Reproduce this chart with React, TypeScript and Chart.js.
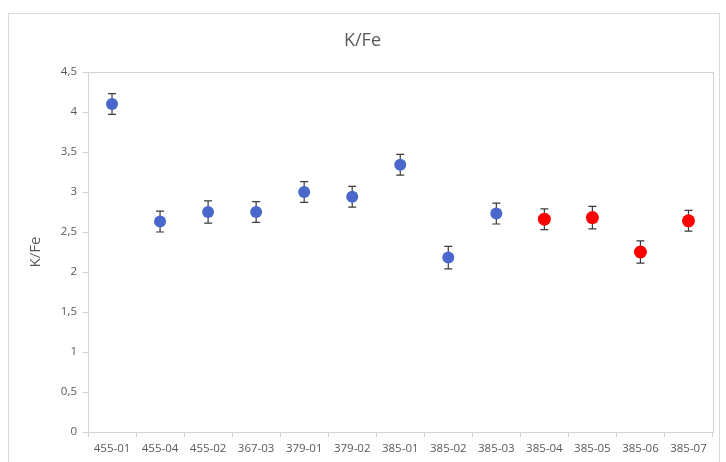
import React, { useEffect, useRef } from "react";
import { Chart, registerables } from "chart.js";

Chart.register(...registerables);

const categories = [
  "455-01", "455-04", "455-02", "367-03", "379-01", "379-02", "385-01",
  "385-02", "385-03", "385-04", "385-05", "385-06", "385-07",
];
const blueSeries = [4.1, 2.63, 2.75, 2.75, 3.0, 2.94, 3.34, 2.18, 2.73, null, null, null, null];
const redSeries = [null, null, null, null, null, null, null, null, null, 2.66, 2.68, 2.25, 2.64];
const errors = [0.13, 0.13, 0.14, 0.13, 0.13, 0.13, 0.13, 0.14, 0.13, 0.13, 0.14, 0.14, 0.13];
const yTickLabels = ["0", "0,5", "1", "1,5", "2", "2,5", "3", "3,5", "4", "4,5"];

const FONT = "'Open Sans', 'Liberation Sans', sans-serif";

const framePlugin = {
  id: "frame",
  beforeDatasetsDraw(chart: any) {
    const { ctx, chartArea } = chart;
    ctx.save();
    ctx.strokeStyle = "#d4d4d4";
    ctx.lineWidth = 1;
    ctx.strokeRect(
      Math.round(chartArea.left) + 0.5,
      Math.round(chartArea.top) + 0.5,
      Math.round(chartArea.right - chartArea.left),
      Math.round(chartArea.bottom - chartArea.top)
    );
    ctx.restore();
  },
};

const errorBarPlugin = {
  id: "errorBars",
  beforeDatasetsDraw(chart: any) {
    const { ctx } = chart;
    const xScale = chart.scales.x;
    const yScale = chart.scales.y;
    ctx.save();
    ctx.strokeStyle = "#3a3a3a";
    ctx.lineWidth = 1.2;
    chart.data.datasets.forEach((ds: any) => {
      ds.data.forEach((v: number | null, i: number) => {
        if (v === null || v === undefined) return;
        const x = xScale.getPixelForValue(i);
        const yTop = yScale.getPixelForValue(v + errors[i]);
        const yBot = yScale.getPixelForValue(v - errors[i]);
        const cap = 4;
        ctx.beginPath();
        ctx.moveTo(x, yTop);
        ctx.lineTo(x, yBot);
        ctx.moveTo(x - cap, yTop);
        ctx.lineTo(x + cap, yTop);
        ctx.moveTo(x - cap, yBot);
        ctx.lineTo(x + cap, yBot);
        ctx.stroke();
      });
    });
    ctx.restore();
  },
};

export default function App() {
  const ref = useRef<HTMLCanvasElement | null>(null);

  useEffect(() => {
    if (!ref.current) return;
    const chart = new Chart(ref.current, {
      type: "line",
      data: {
        labels: categories,
        datasets: [
          {
            label: "K/Fe",
            data: blueSeries as any,
            showLine: false,
            pointRadius: 6,
            pointBackgroundColor: "#4a68cc",
            pointBorderColor: "#4a68cc",
            pointBorderWidth: 0,
          },
          {
            label: "K/Fe (2)",
            data: redSeries as any,
            showLine: false,
            pointRadius: 6.5,
            pointBackgroundColor: "#ff0000",
            pointBorderColor: "#ff0000",
            pointBorderWidth: 0,
          },
        ],
      },
      options: {
        animation: false,
        responsive: true,
        maintainAspectRatio: false,
        layout: { padding: { left: 0, right: 3, top: 0, bottom: 0 } },
        plugins: {
          legend: { display: false },
          tooltip: { enabled: false },
          title: {
            display: true,
            text: "K/Fe",
            color: "#595959",
            font: { family: FONT, size: 18, weight: "normal" },
            padding: { top: 15.8, bottom: 20.6 },
          },
        },
        scales: {
          x: {
            type: "category",
            offset: true,
            grid: {
              offset: true,
              drawOnChartArea: false,
              drawTicks: true,
              tickLength: 5,
              color: "#d0d0d0",
            },
            border: { color: "#d0d0d0" },
            ticks: {
              color: "#595959",
              font: { family: FONT, size: 11.5 },
              maxRotation: 0,
              autoSkip: false,
              padding: 5,
            },
            afterFit(scale: any) {
              scale.height = 40;
            },
          },
          y: {
            min: 0,
            max: 4.5,
            grid: {
              drawOnChartArea: false,
              drawTicks: true,
              tickLength: 5,
              color: "#d0d0d0",
            },
            border: { color: "#d0d0d0" },
            ticks: {
              stepSize: 0.5,
              color: "#595959",
              font: { family: FONT, size: 11.5 },
              padding: 6,
              callback: (value: any) => {
                const idx = Math.round(Number(value) / 0.5);
                return yTickLabels[idx] ?? String(value);
              },
            },
            title: {
              display: true,
              text: "K/Fe",
              color: "#595959",
              font: { family: FONT, size: 15 },
              padding: { top: 17.5, bottom: 0 },
            },
            afterFit(scale: any) {
              scale.width = 79;
            },
          },
        },
      },
      plugins: [framePlugin, errorBarPlugin],
    });
    return () => chart.destroy();
  }, []);

  return (
    <div
      style={{
        position: "fixed",
        left: 8,
        top: 13,
        width: 712,
        height: 460,
        boxSizing: "border-box",
        border: "1px solid #d9d9d9",
        background: "#ffffff",
      }}
    >
      <canvas ref={ref} />
    </div>
  );
}
